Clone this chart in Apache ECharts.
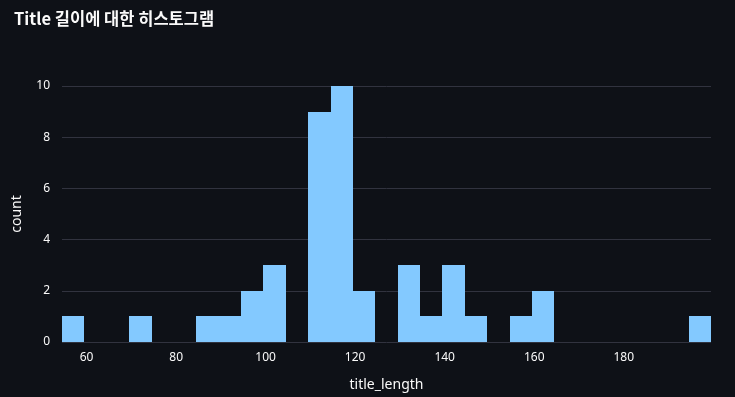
<!DOCTYPE html>
<html>
<head>
<meta charset="utf-8">
<script src="https://cdn.jsdelivr.net/npm/echarts@6/dist/echarts.min.js"></script>
<style>
html,body{margin:0;padding:0;background:#0e1117;}
#c{width:735px;height:397px;}
</style>
</head>
<body>
<div id="c"></div>
<script>
// Histogram bins (lower edge, upper edge) and counts
var binLower = [54.5, 59.5, 64.5, 69.5, 74.5, 79.5, 84.5, 89.5, 94.5, 99.5, 104.5, 109.5, 114.5, 119.5, 124.5, 129.5, 134.5, 139.5, 144.5, 149.5, 154.5, 159.5, 164.5, 169.5, 174.5, 179.5, 184.5, 189.5, 194.5];
var binUpper = [59.5, 64.5, 69.5, 74.5, 79.5, 84.5, 89.5, 94.5, 99.5, 104.5, 109.5, 114.5, 119.5, 124.5, 129.5, 134.5, 139.5, 144.5, 149.5, 154.5, 159.5, 164.5, 169.5, 174.5, 179.5, 184.5, 189.5, 194.5, 199.5];
var counts   = [1, 0, 0, 1, 0, 0, 1, 1, 2, 3, 0, 9, 10, 2, 0, 3, 1, 3, 1, 0, 1, 2, 0, 0, 0, 0, 0, 0, 1];
var xTicks = [60, 80, 100, 120, 140, 160, 180];
var yTicks = [0, 2, 4, 6, 8, 10];

var data = binLower.map(function (lo, i) { return [lo, binUpper[i], counts[i]]; });

var chart = echarts.init(document.getElementById('c'), null, {renderer: 'canvas'});
var font = "'Noto Sans', 'Noto Sans CJK KR', sans-serif";
chart.setOption({
  backgroundColor: '#0e1117',
  animation: false,
  title: {
    text: 'Title 길이에 대한 히스토그램',
    left: 9, top: 5,
    textStyle: {color: '#fafafa', fontSize: 16.5, fontWeight: 'bold', fontFamily: "'Noto Sans CJK KR', sans-serif"}
  },
  grid: {left: 62, right: 24, top: 86, bottom: 55, containLabel: false},
  xAxis: {
    type: 'value', min: 54.5, max: 199.5,
    name: 'title_length', nameLocation: 'middle', nameGap: 36,
    nameTextStyle: {color: '#fafafa', fontSize: 14, fontFamily: font},
    axisLine: {show: false}, axisTick: {show: false},
    splitLine: {show: false},
    axisLabel: {customValues: xTicks, color: '#fafafa', fontSize: 12, fontFamily: font, margin: 10}
  },
  yAxis: {
    type: 'value', min: 0, max: 10, interval: 2,
    name: 'count', nameLocation: 'middle', nameGap: 38,
    nameTextStyle: {color: '#fafafa', fontSize: 14, fontFamily: font},
    axisLine: {show: false}, axisTick: {show: false},
    splitLine: {show: true, lineStyle: {color: '#31333f', width: 1}},
    axisLabel: {color: '#fafafa', fontSize: 12, fontFamily: font, margin: 12}
  },
  series: [{
    type: 'custom',
    data: data,
    encode: {x: [0, 1], y: 2},
    renderItem: function (params, api) {
      var c = api.value(2);
      if (!c) return null;
      var p0 = api.coord([api.value(0), 0]);
      var p1 = api.coord([api.value(1), c]);
      var x0 = Math.round(p0[0]), x1 = Math.round(p1[0]);
      var y0 = Math.round(p0[1]), y1 = Math.round(p1[1]);
      return {
        type: 'rect',
        shape: {x: x0, y: y1, width: x1 - x0, height: y0 - y1},
        style: {fill: '#83c9ff', opacity: 1}
      };
    }
  }]
});
</script>
</body>
</html>
